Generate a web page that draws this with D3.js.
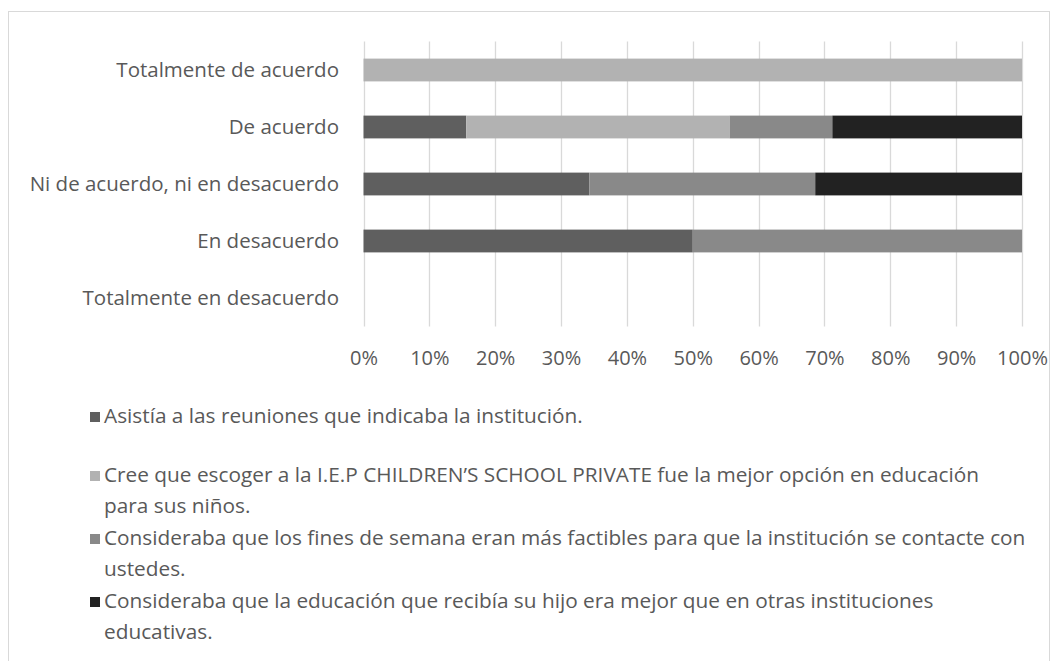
<!DOCTYPE html>
<html>
<head>
<meta charset="utf-8">
<script src="https://cdn.jsdelivr.net/npm/d3@7"></script>
<style>
  html, body { margin: 0; padding: 0; background: #ffffff; }
  svg { display: block; }
  text { font-family: "Open Sans", "Noto Sans", sans-serif; fill: #595959; }
</style>
</head>
<body>
<svg id="chart" width="1063" height="661"></svg>
<script>
// ---- Data ----
const categories = [
  "Totalmente de acuerdo",
  "De acuerdo",
  "Ni de acuerdo, ni en desacuerdo",
  "En desacuerdo",
  "Totalmente en desacuerdo"
];
const seriesNames = [
  ["Asistía a las reuniones que indicaba la institución."],
  ["Cree que escoger a la I.E.P CHILDREN’S SCHOOL PRIVATE fue la mejor opción en educación", "para sus niños."],
  ["Consideraba que los fines de semana eran más factibles para que la institución se contacte con", "ustedes."],
  ["Consideraba que la educación que recibía su hijo era mejor que en otras instituciones", "educativas."]
];
// percentage share of each series within each category (same order as categories)
const asistia      = [0,    15.6, 34.3, 50, 0];
const creeEscoger  = [100,  40.0, 0,    0,  0];
const finesSemana  = [0,    15.6, 34.3, 50, 0];
const educacion    = [0,    28.8, 31.4, 0,  0];
const seriesValues = [asistia, creeEscoger, finesSemana, educacion];
const tickValues = [0, 10, 20, 30, 40, 50, 60, 70, 80, 90, 100];
const tickLabels = ["0%", "10%", "20%", "30%", "40%", "50%", "60%", "70%", "80%", "90%", "100%"];

// ---- Styles / layout ----
const colors = ["#5f5f5f", "#b2b2b2", "#898989", "#222222"];
const svg = d3.select("#chart");
const plot = { left: 363.5, right: 1022, top: 41.5, bottom: 326.5 };

// outer frame
svg.append("rect")
  .attr("x", 8.5).attr("y", 11.5)
  .attr("width", 1041).attr("height", 700)
  .attr("fill", "none").attr("stroke", "#d9d9d9").attr("stroke-width", 1);

const x = d3.scaleLinear().domain([0, 100]).range([plot.left, plot.right]);
const y = d3.scaleBand().domain(categories)
  .range([plot.top, plot.bottom]).paddingInner(0.6).paddingOuter(0.3);

// gridlines
svg.append("g").selectAll("line").data(tickValues).join("line")
  .attr("x1", d => Math.round(x(d)) + 0.5).attr("x2", d => Math.round(x(d)) + 0.5)
  .attr("y1", plot.top).attr("y2", plot.bottom)
  .attr("stroke", "#d9d9d9").attr("stroke-width", 1.3);

// stacked data
const rows = categories.map((c, i) => {
  const r = { cat: c };
  seriesValues.forEach((s, k) => r["s" + k] = s[i]);
  return r;
});
const stack = d3.stack().keys(seriesValues.map((s, k) => "s" + k));
const stacked = stack(rows);

svg.append("g").selectAll("g").data(stacked).join("g")
  .attr("fill", (d, k) => colors[k])
  .selectAll("rect").data(d => d.filter(p => p[1] - p[0] > 0)).join("rect")
  .attr("x", d => x(d[0]))
  .attr("width", d => x(d[1]) - x(d[0]))
  .attr("y", d => y(d.data.cat))
  .attr("height", y.bandwidth());

// category labels
svg.append("g").selectAll("text").data(categories).join("text")
  .attr("x", plot.left - 24.5)
  .attr("y", d => y(d) + y.bandwidth() / 2 + 7)
  .attr("text-anchor", "end")
  .attr("font-size", 20.5)
  .text(d => d);

// x axis (labels only)
const xAxis = d3.axisBottom(x).tickValues(tickValues)
  .tickFormat((d, i) => tickLabels[i]).tickSize(0).tickPadding(0);
const gx = svg.append("g").attr("transform", `translate(0, ${plot.bottom})`).call(xAxis);
gx.select(".domain").remove();
gx.selectAll("text")
  .attr("dy", null).attr("y", 38.5)
  .attr("font-size", 20).attr("font-family", "Open Sans")
  .attr("fill", "#595959");

// legend
const legendBaselines = [423];
[59, 63, 63].forEach(g => legendBaselines.push(legendBaselines[legendBaselines.length - 1] + g));
const lg = svg.append("g").selectAll("g").data(seriesNames).join("g")
  .attr("transform", (d, i) => `translate(0, ${legendBaselines[i]})`);
lg.append("rect")
  .attr("x", 90).attr("y", -11).attr("width", 10).attr("height", 10)
  .attr("fill", (d, i) => colors[i]);
lg.append("text")
  .attr("x", 104)
  .attr("font-size", 20.8)
  .selectAll("tspan").data(d => d).join("tspan")
  .attr("x", 104)
  .attr("y", (d, j) => j * 31)
  .text(d => d);
</script>
</body>
</html>
